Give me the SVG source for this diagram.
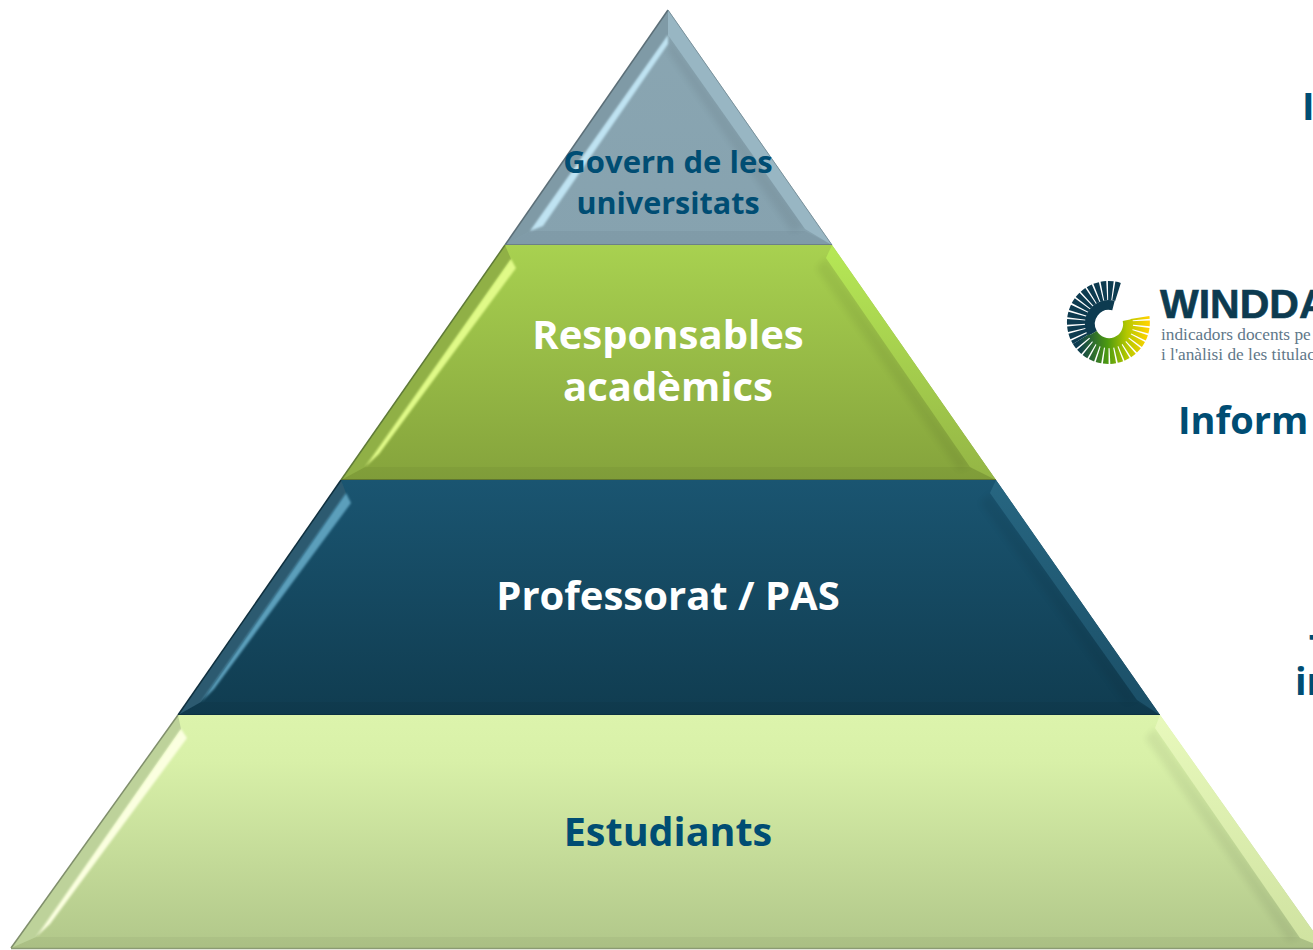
<svg xmlns="http://www.w3.org/2000/svg" width="1313" height="950" viewBox="0 0 1313 950">
<style>
.lbl{font-family:"Open Sans","Liberation Sans",sans-serif;font-weight:700;text-anchor:middle}
.side{font-family:"Open Sans","Liberation Sans",sans-serif;font-weight:700;fill:#004d73;font-size:38px}
.small{font-family:"Liberation Serif",serif;fill:#5f7889;font-size:17.3px}
.shade{fill:#000;opacity:.06;filter:url(#blur)}
.strip{fill:#000;opacity:.04}
</style>
<defs>
<filter id="soft" x="-10%" y="-10%" width="120%" height="120%"><feGaussianBlur stdDeviation="0.9"/></filter>
<filter id="blur" x="-10%" y="-10%" width="120%" height="120%"><feGaussianBlur stdDeviation="3"/></filter>
<linearGradient id="g1" x1="0" y1="0" x2="0" y2="1"><stop offset="0" stop-color="#8aa6b2"/><stop offset="1" stop-color="#86a2af"/></linearGradient>
<linearGradient id="g2" x1="0" y1="0" x2="0" y2="1"><stop offset="0" stop-color="#a8d150"/><stop offset="1" stop-color="#85a33c"/></linearGradient>
<linearGradient id="g3" x1="0" y1="0" x2="0" y2="1"><stop offset="0" stop-color="#1a5571"/><stop offset="1" stop-color="#103c50"/></linearGradient>
<linearGradient id="g4" x1="0" y1="0" x2="0" y2="1"><stop offset="0" stop-color="#dcf4ac"/><stop offset="0.2" stop-color="#d8f0a8"/><stop offset="1" stop-color="#b1c78a"/></linearGradient>
<linearGradient id="b2" x1="0" y1="0" x2="0" y2="1"><stop offset="0" stop-color="#b6e856"/><stop offset="1" stop-color="#94b545"/></linearGradient>
<linearGradient id="b3" x1="0" y1="0" x2="0" y2="1"><stop offset="0" stop-color="#276681"/><stop offset="1" stop-color="#1b4f67"/></linearGradient>
<linearGradient id="b4" x1="0" y1="0" x2="0" y2="1"><stop offset="0" stop-color="#e8f9bc"/><stop offset="1" stop-color="#cfe2a0"/></linearGradient>
<linearGradient id="logoG" gradientUnits="userSpaceOnUse" x1="1078" y1="0" x2="1148" y2="0"><stop offset="0" stop-color="#0d3b50"/><stop offset="0.42" stop-color="#4c9a10"/><stop offset="0.7" stop-color="#b5c800"/><stop offset="1" stop-color="#ffd200"/></linearGradient>
</defs>
<rect width="1313" height="950" fill="#ffffff"/>

<g id="node-govern">
<polygon points="668,10 832,245 505,245" fill="url(#g1)"/>
<polygon points="668,35 805,227 792,232 668,52" class="shade"/>
<polygon points="530,231 805,231 832,245 505,245" class="strip"/>
<polygon points="668,10 832,245 805,229 668,35" fill="#98b6c3"/>
<polygon points="668,10 668,35 530,231 505,245" fill="#7f9aa6"/>
<polygon points="668,35 668,44 543,226 530,231" fill="#bfe3f2" filter="url(#soft)"/>
<path d="M505,245 L668,10" fill="none" stroke="#5c6f78" stroke-width="1.5"/>
<path d="M668,10 L832,245" fill="none" stroke="#7a929c" stroke-width="1"/>
<path d="M505,245 H832" fill="none" stroke="#66777c" stroke-width="1.5"/>
<text class="lbl" x="668" y="173" font-size="31" fill="#004d73">Govern de les</text>
<text class="lbl" x="668" y="214" font-size="30.5" fill="#004d73">universitats</text>
</g>

<g id="node-responsables">
<polygon points="505,245 832,245 996,480 341,480" fill="url(#g2)"/>
<polygon points="826,258 970,467 958,470 816,268" class="shade"/>
<polygon points="365,467 970,467 996,480 341,480" class="strip"/>
<polygon points="832,245 996,480 970,467 826,258" fill="url(#b2)"/>
<polygon points="505,245 511,259 365,467 341,480" fill="#90b046"/>
<polygon points="511,259 516,268 379,454 365,467" fill="#e0fa88" filter="url(#soft)"/>
<path d="M341,480 L505,245" fill="none" stroke="#5f7a38" stroke-width="1.5"/>
<path d="M341,480 H996" fill="none" stroke="#546a2e" stroke-width="1.5"/>
<text class="lbl" x="668" y="349" font-size="40" fill="#ffffff">Responsables</text>
<text class="lbl" x="668" y="401" font-size="40" fill="#ffffff">acadèmics</text>
</g>

<g id="node-professorat">
<polygon points="341,480 996,480 1160,715 178,715" fill="url(#g3)"/>
<polygon points="990,493 1137,700 1125,703 980,503" class="shade"/>
<polygon points="201,702 1137,702 1160,715 178,715" class="strip"/>
<polygon points="996,480 1160,715 1137,700 990,493" fill="url(#b3)"/>
<polygon points="341,480 346,493 201,702 178,715" fill="#2c5a70"/>
<polygon points="346,493 351,503 214,689 201,702" fill="#5c9fbb" filter="url(#soft)"/>
<path d="M178,715 L341,480" fill="none" stroke="#10303f" stroke-width="1.5"/>
<path d="M178,715 H1160" fill="none" stroke="#0c2f3f" stroke-width="1.5"/>
<text class="lbl" x="668" y="610" font-size="40" fill="#ffffff">Professorat / PAS</text>
</g>

<g id="node-estudiants">
<polygon points="178,715 1160,715 1325,948 11,948" fill="url(#g4)"/>
<polygon points="1155,728 1300,938 1288,941 1145,738" class="shade"/>
<polygon points="36,937 1300,937 1325,948 11,948" class="strip"/>
<polygon points="1160,715 1325,948 1300,938 1155,728" fill="url(#b4)"/>
<polygon points="178,715 181,729 36,937 11,948" fill="#bdd29a"/>
<polygon points="181,729 187,738 50,924 36,937" fill="#fbffe0" filter="url(#soft)"/>
<path d="M11,948 L178,715" fill="none" stroke="#808f6c" stroke-width="1.5"/>
<path d="M11,948.5 H1325" fill="none" stroke="#8a9a72" stroke-width="1.5"/>
<text class="lbl" x="668" y="846" font-size="39.5" fill="#004d73">Estudiants</text>
</g>

<g id="logo-winddat">
<path d="M1113.5,305.5 A19,19 0 0 0 1092.5,333.5" fill="none" stroke="#0d3b50" stroke-width="10"/>
<path d="M1092.5,333.5 A19,19 0 0 0 1127.6,320" fill="none" stroke="url(#logoG)" stroke-width="10"/>
<path d="M1118,292 A32,32 0 0 0 1081,339" fill="none" stroke="#0d3b50" stroke-width="19" stroke-dasharray="4.4 1.3"/>
<path d="M1081,339 A32,32 0 0 0 1140,317.5" fill="none" stroke="url(#logoG)" stroke-width="19" stroke-dasharray="4.4 1.3"/>
<text x="1160" y="318" font-family="Liberation Sans,sans-serif" font-weight="700" font-size="41" fill="#0d3b50" stroke="#0d3b50" stroke-width="0.6">WINDDA</text>
<text class="small" x="1161" y="340">indicadors docents pe</text>
<text class="small" x="1161" y="360">i l'anàlisi de les titulac</text>
</g>

<g id="side-labels">
<text class="side" x="1302" y="120">I</text>
<text class="side" x="1178" y="434">Inform</text>
<text class="side" x="1312.5" y="632">J</text>
<text class="side" x="1295" y="695">in</text>
</g>
<g id="connectors"/>
</svg>
